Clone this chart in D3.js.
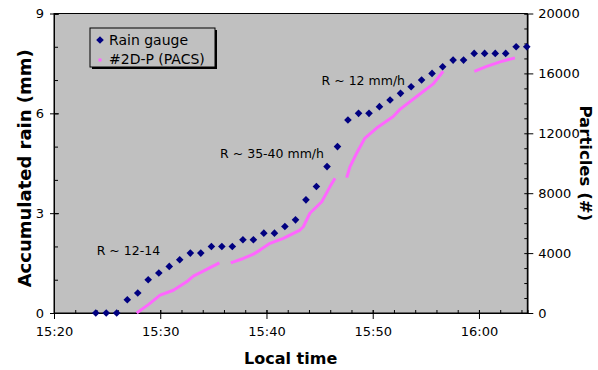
<!DOCTYPE html>
<html>
<head>
<meta charset="utf-8">
<script src="https://cdn.jsdelivr.net/npm/d3@7"></script>
<style>
  body { margin: 0; background: #fff; }
  text { font-family: "DejaVu Sans", Verdana, sans-serif; fill: #000; }
</style>
</head>
<body>
<div id="chart"></div>
<script>
// rain gauge samples (time of sample, accumulated rain in mm)
const gaugeTimes = ["15:23:56","15:24:55","15:25:54","15:26:54","15:27:53","15:28:52","15:29:52",
  "15:30:51","15:31:50","15:32:50","15:33:49","15:34:49","15:35:48","15:36:47","15:37:47",
  "15:38:46","15:39:45","15:40:45","15:41:44","15:42:44","15:43:43","15:44:42","15:45:42",
  "15:46:41","15:47:40","15:48:40","15:49:39","15:50:38","15:51:38","15:52:37","15:53:37",
  "15:54:36","15:55:35","15:56:35","15:57:34","15:58:33","15:59:33","16:00:32","16:01:32",
  "16:02:31","16:03:30","16:04:30"];
const gaugeRain = [0,0,0,0.4,0.6,1.0,1.2,1.4,1.6,1.8,1.8,2.0,2.0,2.0,2.2,2.2,2.4,2.4,2.6,2.8,
  3.4,3.8,4.4,5.0,5.8,6.0,6.0,6.2,6.4,6.6,6.8,7.0,7.2,7.4,7.6,7.6,7.8,7.8,7.8,7.8,8.0,8.0];

// 2D-P (PACS) cumulative particle count, null = gap in the record
const pacsTimes = ["15:27:47","15:28:53","15:29:59","15:31:14","15:32:29","15:33:07","15:34:22","15:35:34",
  "15:36:06",
  "15:36:38","15:37:49","15:38:46","15:39:23","15:40:20","15:41:35","15:43:09","15:43:28","15:44:05",
  "15:45:12","15:45:59","15:46:27",
  "15:47:00",
  "15:47:33","15:47:52","15:48:29","15:49:16","15:50:22","15:51:56","15:52:34","15:54:08","15:55:42","15:56:38",
  "15:58:00",
  "15:59:34","16:00:44","16:01:59","16:03:23"];
const pacsCount = [0,560,1190,1520,2080,2460,2910,3350,
  null,
  3350,3640,3930,4200,4650,4980,5540,5760,6660,7430,8440,9000,
  null,
  9040,9780,10670,11680,12350,13120,13600,14460,15300,16140,
  null,
  16140,16470,16770,17040];

const leftTicks = [0,3,6,9];
const rightTicks = [0,4000,8000,12000,16000,20000];
const timeTicks = ["15:20:00","15:30:00","15:40:00","15:50:00","16:00:00"];
const timeStart = "15:20:00", timeEnd = "16:04:33";

const annotations = [
  {text: "R ~ 12-14", t: "15:24:01", v: 1.75},
  {text: "R ~ 35-40 mm/h", t: "15:35:38", v: 4.65},
  {text: "R ~ 12 mm/h", t: "15:45:11", v: 6.85}
];

const W = 598, H = 370;
const plot = {left: 54, right: 527.3, top: 13.5, bottom: 313};
const parse = d3.timeParse("%H:%M:%S");

const svg = d3.select("#chart").append("svg")
  .attr("width", W).attr("height", H);

const x = d3.scaleTime()
  .domain([parse(timeStart), parse(timeEnd)])
  .range([plot.left, plot.right]);
const y = d3.scaleLinear().domain([0, 9]).range([plot.bottom, plot.top]);
const y2 = d3.scaleLinear().domain([0, 20000]).range([plot.bottom, plot.top]);

// plot background
svg.append("rect")
  .attr("x", plot.left).attr("y", plot.top)
  .attr("width", plot.right - plot.left).attr("height", plot.bottom - plot.top)
  .attr("fill", "#c0c0c0").attr("stroke", "#000").attr("stroke-width", 1);

function styleAxis(g) {
  g.select(".domain").attr("stroke", "#000");
  g.selectAll(".tick line").attr("stroke", "#000");
  g.selectAll(".tick text").style("font-size", "13px").attr("fill", "#000");
}

// minor ticks (inside)
const minorTime = d3.timeMinute.every(2).range(parse(timeStart), parse(timeEnd));
svg.append("g")
  .attr("transform", `translate(0,${plot.bottom})`)
  .call(d3.axisBottom(x).tickValues(minorTime).tickSize(-3).tickFormat(""))
  .call(styleAxis);
svg.append("g")
  .attr("transform", `translate(${plot.left},0)`)
  .call(d3.axisLeft(y).tickValues(d3.range(0, 10, 1)).tickSize(-4).tickFormat(""))
  .call(styleAxis);
svg.append("g")
  .attr("transform", `translate(${plot.right},0)`)
  .call(d3.axisRight(y2).tickValues(d3.range(0, 20001, 1000)).tickSize(-3).tickFormat(""))
  .call(styleAxis);

// major ticks crossing the axis: inner part
svg.append("g")
  .attr("transform", `translate(0,${plot.bottom})`)
  .call(d3.axisBottom(x).tickValues(timeTicks.map(parse)).tickSize(-3).tickFormat(""))
  .call(styleAxis);
svg.append("g")
  .attr("transform", `translate(${plot.left},0)`)
  .call(d3.axisLeft(y).tickValues(leftTicks).tickSize(-5).tickFormat(""))
  .call(styleAxis);

// major axes with labels
svg.append("g")
  .attr("transform", `translate(0,${plot.bottom})`)
  .call(d3.axisBottom(x).tickValues(timeTicks.map(parse))
    .tickFormat(d3.timeFormat("%H:%M")).tickSizeInner(6).tickSizeOuter(0).tickPadding(8))
  .call(styleAxis);
svg.append("g")
  .attr("transform", `translate(${plot.left},0)`)
  .call(d3.axisLeft(y).tickValues(leftTicks).tickFormat(d3.format("d"))
    .tickSizeInner(4).tickSizeOuter(0).tickPadding(6))
  .call(styleAxis);
svg.append("g")
  .attr("transform", `translate(${plot.right},0)`)
  .call(d3.axisRight(y2).tickValues(rightTicks).tickFormat(d3.format("d"))
    .tickSizeInner(6).tickSizeOuter(0).tickPadding(5))
  .call(styleAxis);

// PACS line
const pacs = pacsTimes.map((t, i) => ({t: parse(t), v: pacsCount[i]}));
svg.append("path")
  .datum(pacs)
  .attr("fill", "none")
  .attr("stroke", "#ff66ff")
  .attr("stroke-width", 3)
  .attr("stroke-linejoin", "round")
  .attr("d", d3.line()
    .defined(d => d.v !== null)
    .x(d => x(d.t))
    .y(d => y2(d.v)));

// rain gauge diamonds
const diamond = d3.symbol(d3.symbolSquare).size(29);
const gauge = gaugeTimes.map((t, i) => ({t: parse(t), v: gaugeRain[i]}));
svg.append("g")
  .selectAll("path")
  .data(gauge)
  .join("path")
  .attr("d", diamond)
  .attr("fill", "#000080")
  .attr("transform", d => `translate(${x(d.t)},${y(d.v)}) rotate(45)`);

// annotations
svg.append("g")
  .selectAll("text")
  .data(annotations)
  .join("text")
  .attr("x", d => x(parse(d.t)))
  .attr("y", d => y(d.v))
  .style("font-size", "12.5px")
  .text(d => d.text);

// legend
const lg = svg.append("g").attr("transform", "translate(90,28)");
lg.append("rect").attr("x", 2).attr("y", 2).attr("width", 125).attr("height", 39).attr("fill", "#000");
lg.append("rect").attr("width", 125).attr("height", 39)
  .attr("fill", "#c0c0c0").attr("stroke", "#000").attr("stroke-width", 1);
lg.append("path").attr("d", diamond).attr("fill", "#000080")
  .attr("transform", "translate(10,12) rotate(45)");
lg.append("text").attr("x", 19).attr("y", 17).style("font-size", "14px").text("Rain gauge");
lg.append("rect").attr("x", 8.5).attr("y", 30.5).attr("width", 3).attr("height", 3).attr("fill", "#ff66ff");
lg.append("text").attr("x", 19).attr("y", 36).style("font-size", "14px").text("#2D-P (PACS)");

// axis titles
svg.append("text")
  .attr("transform", `translate(31,${(plot.top + plot.bottom) / 2 + 5}) rotate(-90)`)
  .attr("text-anchor", "middle")
  .style("font-size", "18px").style("font-weight", "bold")
  .text("Accumulated rain (mm)");
svg.append("text")
  .attr("transform", `translate(580,${(plot.top + plot.bottom) / 2}) rotate(90)`)
  .attr("text-anchor", "middle")
  .style("font-size", "16.5px").style("font-weight", "bold")
  .text("Particles (#)");
svg.append("text")
  .attr("x", (plot.left + plot.right) / 2).attr("y", 364)
  .attr("text-anchor", "middle")
  .style("font-size", "16px").style("font-weight", "bold")
  .text("Local time");
</script>
</body>
</html>
